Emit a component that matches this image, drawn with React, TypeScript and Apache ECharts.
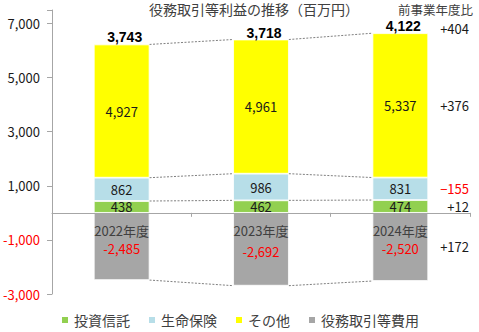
import React, { useEffect, useRef } from 'react';
import * as echarts from 'echarts';

const categories = ['2022年度', '2023年度', '2024年度'];
const investTrust = [438, 462, 474];
const lifeInsurance = [862, 986, 831];
const others = [4927, 4961, 5337];
const feeExpenses = [-2485, -2692, -2520];
const netProfit = [3743, 3718, 4122];
const seriesNames = ['投資信託', '生命保険', 'その他', '役務取引等費用'];
const yoyDiffs = [12, -155, 376, 172];
const yoyNet = 404;
const yAxisMin = -3000;
const yAxisMax = 7500;
const yAxisInterval = 2000;
const yTickLabels = [-3000, -1000, 1000, 3000, 5000, 7000];

const FONT = '"Noto Sans CJK JP", "Noto Sans", sans-serif';
const COLORS = ['#92d050', '#b7dee8', '#ffff00', '#a6a6a6'];

const fmt = (v: number) => v.toLocaleString('en-US');
const fmtDiff = (v: number) => (v < 0 ? '\u2212' + fmt(-v) : '+' + fmt(v));

export default function App() {
  const ref = useRef<HTMLDivElement>(null);

  useEffect(() => {
    document.body.style.margin = '0';
    if (!ref.current) return;
    const chart = echarts.init(ref.current, undefined, { renderer: 'svg' });

    const n = categories.length;
    const lvlG = investTrust.map((v) => v);
    const lvlB = investTrust.map((v, i) => v + lifeInsurance[i]);
    const lvlY = investTrust.map((v, i) => v + lifeInsurance[i] + others[i]);
    const lvlC = feeExpenses.map((v) => v);
    const levels = [lvlG, lvlB, lvlY, lvlC];

    const barLabel = (color: string, dy: number) => ({
      show: true,
      position: 'inside',
      offset: [0, dy],
      color,
      fontSize: 13,
      fontFamily: FONT,
      formatter: (p: any) => fmt(p.value),
    });

    const barSeries = [investTrust, lifeInsurance, others, feeExpenses].map((d, k) => ({
      name: seriesNames[k],
      type: 'bar',
      stack: 'total',
      barWidth: '40%',
      data: d,
      itemStyle: { color: COLORS[k], borderColor: '#ffffff', borderWidth: 0.8 },
      label: barLabel(k === 3 ? '#ff0000' : '#1a1a1a', k === 3 ? 2 : 0),
      z: 2,
    }));

    const connectorSeries = {
      type: 'custom',
      silent: true,
      z: 1,
      data: categories.slice(0, n - 1).map((_, i) => [i, 0]),
      encode: { x: 0, y: 1 },
      renderItem: (params: any, api: any) => {
        const i = params.dataIndex;
        const half = (api.size([1, 0])[0] * 0.4) / 2;
        const children = levels.map((lv) => {
          const p1 = api.coord([i, lv[i]]);
          const p2 = api.coord([i + 1, lv[i + 1]]);
          return {
            type: 'line',
            shape: { x1: p1[0] + half, y1: p1[1], x2: p2[0] - half, y2: p2[1] },
            style: { stroke: '#7f7f7f', lineWidth: 1, lineDash: [2, 1.5] },
          };
        });
        return { type: 'group', children };
      },
    };

    const annotationSeries = {
      type: 'custom',
      silent: true,
      z: 5,
      data: categories.map((_, i) => [i, lvlY[i]]),
      encode: { x: 0, y: 1 },
      renderItem: (params: any, api: any) => {
        const i = params.dataIndex;
        const [cx, cy] = api.coord([i, lvlY[i]]);
        const zeroY = api.coord([i, 0])[1];
        const children: any[] = [
          {
            type: 'text',
            x: cx + 3,
            y: cy - 7,
            style: {
              text: fmt(netProfit[i]),
              fontSize: 14,
              fontWeight: 'bold',
              fontFamily: '"Liberation Sans", Arial, sans-serif',
              fill: '#000000',
              align: 'center',
              verticalAlign: 'middle',
            },
          },
          {
            type: 'text',
            x: cx,
            y: zeroY + 18,
            style: {
              text: categories[i],
              fontSize: 13,
              fontFamily: FONT,
              fill: '#404040',
              align: 'center',
              verticalAlign: 'middle',
            },
          },
        ];
        if (i === n - 1) {
          const band = api.size([1, 0])[0];
          const rx = cx + band / 2 - 1;
          const mids = [
            investTrust[i] / 2,
            investTrust[i] + lifeInsurance[i] / 2,
            investTrust[i] + lifeInsurance[i] + others[i] / 2,
            feeExpenses[i] / 2,
          ];
          mids.forEach((m, k) => {
            const p = api.coord([i, m]);
            children.push({
              type: 'text',
              x: rx,
              y: p[1],
              style: {
                text: fmtDiff(yoyDiffs[k]),
                fontSize: 13,
                fontFamily: FONT,
                fill: yoyDiffs[k] < 0 ? '#ff0000' : '#1a1a1a',
                align: 'right',
                verticalAlign: 'middle',
              },
            });
          });
          children.push({
            type: 'text',
            x: rx,
            y: cy - 5,
            style: {
              text: fmtDiff(yoyNet),
              fontSize: 13,
              fontFamily: FONT,
              fill: '#1a1a1a',
              align: 'right',
              verticalAlign: 'middle',
            },
          });
        }
        return { type: 'group', children };
      },
    };

    chart.setOption({
      animation: false,
      textStyle: { fontFamily: FONT },
      title: [
        {
          text: '役務取引等利益の推移（百万円）',
          left: 149,
          top: 2,
          padding: 0,
          textStyle: { fontSize: 14, fontWeight: 'normal', color: '#404040', fontFamily: FONT },
        },
        {
          text: '前事業年度比',
          left: 398,
          top: 3,
          padding: 0,
          textStyle: { fontSize: 12.5, fontWeight: 'normal', color: '#404040', fontFamily: FONT },
        },
      ],
      legend: {
        data: seriesNames,
        left: 60,
        top: 313,
        icon: 'rect',
        itemWidth: 8,
        itemHeight: 8,
        itemGap: 17,
        padding: 0,
        textStyle: { fontSize: 14, color: '#404040', fontFamily: FONT },
      },
      grid: { left: 52, right: 9, top: 10, bottom: 38, containLabel: false },
      xAxis: {
        type: 'category',
        data: categories,
        z: 3,
        axisLine: { show: true, onZero: true, lineStyle: { color: '#a6a6a6', width: 1 } },
        axisTick: { show: true, length: 4, lineStyle: { color: '#a6a6a6' } },
        axisLabel: { show: false },
        splitLine: { show: false },
      },
      yAxis: {
        type: 'value',
        min: yAxisMin,
        max: yAxisMax,
        interval: yAxisInterval,
        axisLine: { show: true, lineStyle: { color: '#a6a6a6', width: 1 } },
        axisTick: { show: true, length: 5, lineStyle: { color: '#a6a6a6' } },
        splitLine: { show: false },
        axisLabel: {
          margin: 12,
          fontSize: 13,
          fontFamily: FONT,
          color: (v: any) => (Number(v) < 0 ? '#ff0000' : '#1a1a1a'),
          formatter: (v: number) => (yTickLabels.includes(v) ? fmt(v) : ''),
        },
      },
      series: [...barSeries, connectorSeries, annotationSeries],
    });

    return () => chart.dispose();
  }, []);

  return <div ref={ref} style={{ width: 479, height: 332 }} />;
}
